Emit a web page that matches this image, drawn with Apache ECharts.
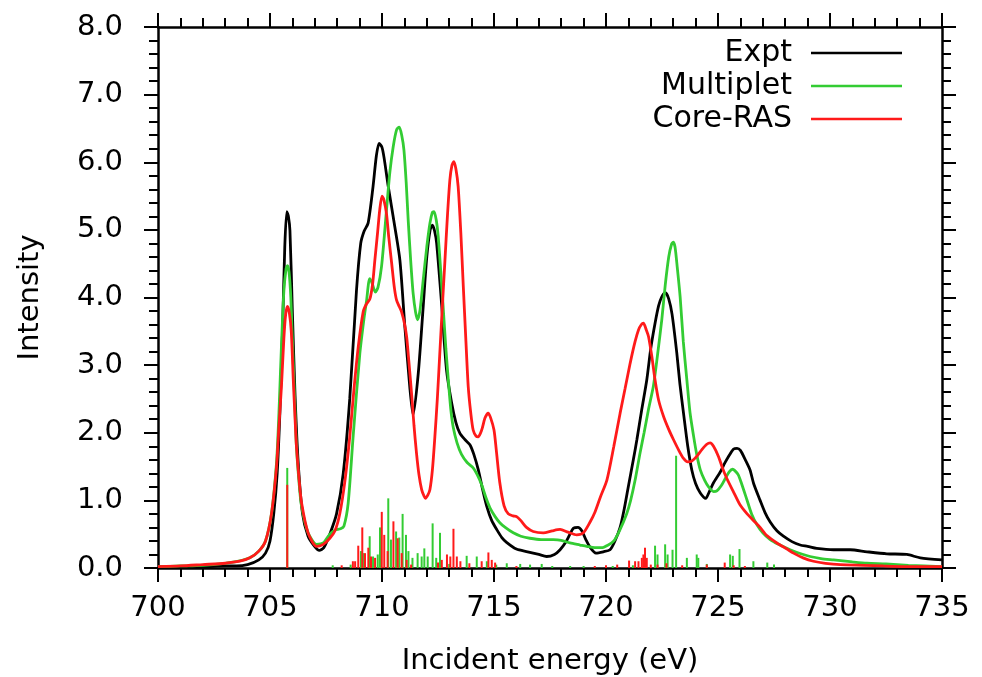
<!DOCTYPE html>
<html>
<head>
<meta charset="utf-8">
<script src="https://cdn.jsdelivr.net/npm/echarts@6/dist/echarts.min.js"></script>
<style>
  html, body { margin: 0; padding: 0; background: #fff; }
  #chart { width: 982px; height: 677px; }
</style>
</head>
<body>
<div id="chart"></div>
<script>
// L-edge XAS spectra: measured curve and two calculations, [energy eV, intensity]
const expt = [
  [700.0, 0.02], [701.0, 0.02], [702.0, 0.02], [703.0, 0.03], [703.5, 0.03], [704.0, 0.05],
  [704.5, 0.12], [704.8, 0.22], [705.0, 0.4], [705.17, 0.81], [705.32, 1.4], [705.44, 2.29],
  [705.56, 3.52], [705.66, 4.75], [705.75, 5.27], [705.82, 5.2], [705.89, 4.99], [706.0, 3.77],
  [706.12, 2.54], [706.26, 1.55], [706.45, 0.81], [706.7, 0.47], [706.99, 0.32], [707.2, 0.26],
  [707.4, 0.3], [707.67, 0.5], [707.97, 0.8], [708.27, 1.4], [708.56, 2.5], [708.86, 4.1],
  [709.05, 4.8], [709.2, 4.98], [709.38, 5.1], [709.6, 5.64], [709.75, 6.1], [709.87, 6.28],
  [710.0, 6.22], [710.1, 6.05], [710.28, 5.64], [710.57, 5.05], [710.8, 4.55], [711.02, 3.57],
  [711.24, 2.68], [711.39, 2.26], [711.62, 2.88], [711.84, 3.87], [712.0, 4.6], [712.15, 5.0],
  [712.25, 5.07], [712.35, 4.98], [712.44, 4.8], [712.66, 3.91], [712.88, 2.93], [713.11, 2.44],
  [713.3, 2.15], [713.48, 1.99], [713.7, 1.9], [713.93, 1.82], [714.1, 1.68], [714.3, 1.45],
  [714.5, 1.15], [714.67, 0.92], [714.9, 0.7], [715.12, 0.57], [715.35, 0.45], [715.56, 0.38],
  [716.0, 0.28], [716.5, 0.24], [717.0, 0.2], [717.35, 0.17], [717.7, 0.2], [717.95, 0.27],
  [718.2, 0.38], [718.39, 0.5], [718.55, 0.59], [718.75, 0.6], [718.92, 0.55], [719.1, 0.42],
  [719.3, 0.3], [719.55, 0.22], [719.88, 0.24], [720.18, 0.27], [720.4, 0.4], [720.63, 0.6],
  [720.8, 0.85], [721.0, 1.21], [721.22, 1.6], [721.38, 1.9], [721.6, 2.35], [721.82, 2.78],
  [722.0, 3.25], [722.19, 3.62], [722.35, 3.88], [722.49, 4.01], [722.65, 4.07], [722.8, 3.98],
  [722.95, 3.75], [723.16, 3.18], [723.3, 2.72], [723.46, 2.29], [723.65, 1.8], [723.83, 1.45],
  [724.0, 1.25], [724.21, 1.11], [724.45, 1.03], [724.6, 1.12], [724.8, 1.26], [725.1, 1.42],
  [725.3, 1.55], [725.47, 1.65], [725.7, 1.76], [725.85, 1.77], [726.0, 1.74], [726.22, 1.6],
  [726.43, 1.45], [726.59, 1.25], [726.88, 1.0], [727.1, 0.82], [727.33, 0.68], [727.63, 0.55],
  [727.92, 0.47], [728.3, 0.39], [728.67, 0.34], [729.0, 0.32], [729.41, 0.29], [730.16, 0.27],
  [730.9, 0.27], [731.65, 0.24], [732.54, 0.21], [733.43, 0.2], [734.03, 0.15], [735.0, 0.12]
];

const multiplet = [
  [700.0, 0.02], [701.0, 0.03], [702.0, 0.04], [703.0, 0.07], [703.6, 0.1], [704.1, 0.15],
  [704.5, 0.25], [704.8, 0.4], [705.07, 0.81], [705.29, 1.55], [705.4, 2.3], [705.51, 3.27],
  [705.62, 4.1], [705.72, 4.43], [705.78, 4.47], [705.85, 4.38], [705.93, 4.0], [706.0, 3.37],
  [706.1, 2.5], [706.18, 1.8], [706.3, 1.25], [706.41, 0.91], [706.7, 0.52], [707.08, 0.35],
  [707.38, 0.37], [707.67, 0.5], [707.9, 0.56], [708.15, 0.58], [708.3, 0.62], [708.49, 0.96],
  [708.71, 1.94], [709.01, 3.17], [709.2, 3.7], [709.31, 3.95], [709.45, 4.28], [709.55, 4.22],
  [709.7, 4.08], [709.82, 4.15], [709.98, 4.46], [710.2, 5.29], [710.35, 5.85], [710.5, 6.23],
  [710.65, 6.48], [710.77, 6.52], [710.88, 6.4], [710.98, 6.18], [711.08, 5.7], [711.17, 5.14],
  [711.28, 4.55], [711.39, 4.06], [711.5, 3.78], [711.59, 3.67], [711.7, 3.82], [711.84, 4.26],
  [712.0, 4.75], [712.14, 5.1], [712.25, 5.26], [712.32, 5.27], [712.42, 5.15], [712.51, 4.9],
  [712.62, 4.4], [712.73, 3.86], [712.85, 3.25], [712.96, 2.78], [713.07, 2.35], [713.18, 2.08],
  [713.35, 1.85], [713.55, 1.68], [713.8, 1.56], [714.07, 1.48], [714.25, 1.38], [714.45, 1.23],
  [714.65, 1.03], [714.82, 0.89], [715.05, 0.76], [715.26, 0.67], [715.5, 0.6], [715.86, 0.52],
  [716.2, 0.47], [716.6, 0.44], [717.1, 0.42], [717.65, 0.42], [718.0, 0.41], [718.39, 0.37],
  [718.84, 0.34], [719.14, 0.32], [719.5, 0.3], [719.8, 0.3], [720.1, 0.34], [720.35, 0.4],
  [720.6, 0.55], [720.92, 0.8], [721.1, 1.0], [721.3, 1.3], [721.52, 1.7], [721.7, 2.0],
  [721.9, 2.35], [722.12, 2.7], [722.3, 3.15], [722.49, 3.67], [722.65, 4.2], [722.8, 4.6],
  [722.92, 4.78], [723.0, 4.82], [723.08, 4.75], [723.18, 4.45], [723.31, 4.01], [723.45, 3.35],
  [723.61, 2.78], [723.75, 2.3], [723.91, 1.95], [724.05, 1.68], [724.21, 1.45], [724.4, 1.3],
  [724.58, 1.2], [724.8, 1.13], [724.95, 1.14], [725.15, 1.22], [725.32, 1.32], [725.5, 1.42],
  [725.65, 1.46], [725.75, 1.44], [725.9, 1.38], [726.05, 1.25], [726.29, 1.01], [726.5, 0.8],
  [726.74, 0.64], [727.0, 0.52], [727.33, 0.42], [727.7, 0.35], [728.22, 0.27], [728.7, 0.21],
  [729.11, 0.17], [729.6, 0.14], [730.16, 0.12], [731.0, 0.09], [731.65, 0.07], [732.5, 0.06],
  [733.5, 0.04], [735.0, 0.02]
];

const coreRas = [
  [700.0, 0.02], [701.0, 0.03], [702.0, 0.05], [703.0, 0.07], [703.65, 0.1], [704.1, 0.15],
  [704.5, 0.25], [704.8, 0.4], [705.07, 0.81], [705.29, 1.5], [705.4, 2.1], [705.51, 2.68],
  [705.62, 3.4], [705.7, 3.75], [705.78, 3.87], [705.86, 3.78], [705.95, 3.5], [706.04, 2.78],
  [706.12, 2.2], [706.18, 1.8], [706.3, 1.3], [706.41, 0.96], [706.7, 0.52], [707.08, 0.32],
  [707.38, 0.35], [707.67, 0.44], [707.9, 0.55], [708.12, 0.81], [708.35, 1.3], [708.56, 1.94],
  [708.75, 2.65], [708.94, 3.27], [709.16, 3.79], [709.3, 3.9], [709.46, 3.98], [709.58, 4.2],
  [709.68, 4.55], [709.8, 4.95], [709.9, 5.3], [710.0, 5.5], [710.08, 5.45], [710.2, 5.24],
  [710.3, 4.9], [710.43, 4.51], [710.55, 4.15], [710.65, 3.96], [710.78, 3.86], [710.87, 3.79],
  [711.0, 3.62], [711.1, 3.42], [711.2, 3.05], [711.32, 2.58], [711.43, 2.1], [711.54, 1.7],
  [711.65, 1.38], [711.77, 1.16], [711.88, 1.06], [711.94, 1.03], [712.05, 1.08], [712.14, 1.16],
  [712.25, 1.45], [712.36, 1.94], [712.47, 2.5], [712.58, 3.17], [712.7, 3.9], [712.81, 4.55],
  [712.92, 5.2], [713.03, 5.74], [713.12, 5.95], [713.21, 6.01], [713.3, 5.9], [713.4, 5.64],
  [713.52, 4.95], [713.63, 4.16], [713.74, 3.4], [713.85, 2.68], [713.96, 2.3], [714.07, 2.04],
  [714.2, 1.95], [714.3, 1.94], [714.45, 2.04], [714.6, 2.22], [714.74, 2.29], [714.85, 2.22],
  [715.0, 2.04], [715.1, 1.75], [715.26, 1.26], [715.45, 0.92], [715.64, 0.8], [715.85, 0.77],
  [716.01, 0.76], [716.2, 0.7], [716.45, 0.6], [716.75, 0.54], [717.2, 0.52], [717.6, 0.55],
  [717.95, 0.57], [718.3, 0.53], [718.69, 0.49], [718.99, 0.52], [719.29, 0.68], [719.5, 0.82],
  [719.75, 1.05], [720.04, 1.3], [720.35, 1.8], [720.63, 2.29], [720.85, 2.65], [721.08, 3.03],
  [721.3, 3.35], [721.45, 3.52], [721.58, 3.6], [721.67, 3.62], [721.8, 3.52], [721.9, 3.42],
  [722.05, 3.12], [722.19, 2.78], [722.35, 2.48], [722.57, 2.24], [722.8, 2.05], [723.01, 1.9],
  [723.25, 1.74], [723.46, 1.62], [723.65, 1.57], [723.83, 1.58], [724.05, 1.65], [724.28, 1.75],
  [724.5, 1.83], [724.65, 1.85], [724.8, 1.8], [725.02, 1.65], [725.2, 1.48], [725.4, 1.32],
  [725.7, 1.12], [725.99, 0.93], [726.3, 0.8], [726.59, 0.7], [726.88, 0.6], [727.18, 0.48],
  [727.63, 0.37], [728.08, 0.28], [728.37, 0.22], [728.8, 0.15], [729.26, 0.1], [729.8, 0.07],
  [730.46, 0.05], [731.5, 0.04], [732.39, 0.03], [734.0, 0.02], [735.0, 0.02]
];

// Transition stick spectra of the two calculations
const multipletSticks = [
  [705.77, 1.48], [707.8, 0.04], [708.6, 0.05], [709.06, 0.25], [709.15, 0.22], [709.24, 0.2],
  [709.45, 0.47], [709.6, 0.17], [709.81, 0.2], [709.91, 0.6], [710.28, 1.03], [710.4, 0.42],
  [710.63, 0.54], [710.77, 0.45], [710.92, 0.8], [711.07, 0.49], [711.18, 0.25], [711.36, 0.15],
  [711.59, 0.22], [711.77, 0.17], [711.89, 0.29], [712.04, 0.17], [712.26, 0.66], [712.42, 0.15],
  [712.59, 0.52], [713.0, 0.06], [713.78, 0.18], [714.23, 0.17], [714.68, 0.1], [715.1, 0.05],
  [715.57, 0.07], [716.17, 0.06], [716.61, 0.05], [717.13, 0.06], [717.6, 0.03], [718.4, 0.03],
  [719.0, 0.03], [720.3, 0.03], [721.2, 0.04], [722.19, 0.33], [722.3, 0.2], [722.64, 0.35],
  [722.75, 0.2], [722.97, 0.27], [723.13, 1.66], [723.61, 0.15], [724.05, 0.2], [724.12, 0.15],
  [724.5, 0.06], [725.54, 0.2], [725.66, 0.18], [725.96, 0.28], [726.58, 0.1], [727.2, 0.08],
  [727.5, 0.05]
];

const coreRasSticks = [
  [705.77, 1.23], [708.2, 0.04], [708.7, 0.1], [708.8, 0.1], [708.94, 0.33], [709.12, 0.6],
  [709.24, 0.22], [709.39, 0.3], [709.51, 0.17], [709.69, 0.15], [709.99, 0.83], [710.1, 0.49],
  [710.25, 0.25], [710.51, 0.69], [710.7, 0.44], [710.88, 0.22], [711.1, 0.12], [711.3, 0.05],
  [712.5, 0.08], [712.67, 0.12], [712.9, 0.2], [713.05, 0.17], [713.19, 0.58], [713.34, 0.17],
  [713.5, 0.1], [713.9, 0.07], [714.45, 0.1], [714.75, 0.23], [714.9, 0.12], [715.05, 0.08],
  [716.0, 0.03], [719.5, 0.03], [720.0, 0.04], [720.5, 0.05], [721.03, 0.11], [721.3, 0.1],
  [721.45, 0.1], [721.6, 0.15], [721.67, 0.2], [721.74, 0.3], [721.82, 0.15], [722.0, 0.05],
  [722.3, 0.05], [722.7, 0.07], [723.4, 0.04], [724.5, 0.05], [725.3, 0.08], [725.7, 0.04],
  [726.2, 0.03]
];

const seriesNames = ['Expt', 'Multiplet', 'Core-RAS'];
const energyRange = [700, 735];
const intensityRange = [0, 8];

const FONT = 'DejaVu Sans';
const FONT_SIZE = 29;
const BLACK = '#000000';
const GREEN = '#33cc33';
const RED = '#ff1a1a';

function axisStyle(extra) {
  return Object.assign({
    type: 'value',
    axisLine: { show: true, onZero: false, lineStyle: { color: BLACK, width: 2.5 } },
    axisTick: { show: true, inside: false, length: 14, lineStyle: { color: BLACK, width: 2 } },
    minorTick: { show: true, splitNumber: 5, length: 9, lineStyle: { color: BLACK, width: 2 } },
    splitLine: { show: false },
    minorSplitLine: { show: false }
  }, extra);
}

const chart = echarts.init(document.getElementById('chart'), null, { renderer: 'canvas' });

chart.setOption({
  animation: false,
  backgroundColor: '#ffffff',
  grid: { left: 158, right: 40, top: 27, bottom: 109, containLabel: false, outerBoundsMode: 'none' },
  legend: {
    data: seriesNames,
    orient: 'vertical',
    align: 'right',
    right: 80,
    top: 37,
    padding: 0,
    itemGap: 1,
    itemWidth: 91,
    itemHeight: 2.5,
    icon: 'rect',
    textStyle: { fontFamily: FONT, fontSize: 30, color: BLACK, lineHeight: 32, padding: [0, 14, 0, 0] }
  },
  xAxis: [
    axisStyle({
      position: 'bottom',
      min: energyRange[0], max: energyRange[1], interval: 5,
      name: 'Incident energy (eV)',
      nameLocation: 'middle',
      nameGap: 79,
      nameTextStyle: { fontFamily: FONT, fontSize: FONT_SIZE, color: BLACK },
      axisLabel: { fontFamily: FONT, fontSize: FONT_SIZE, color: BLACK, margin: 26 }
    }),
    axisStyle({
      position: 'top',
      min: energyRange[0], max: energyRange[1], interval: 5,
      axisLabel: { show: false }
    })
  ],
  yAxis: [
    axisStyle({
      position: 'left',
      min: intensityRange[0], max: intensityRange[1], interval: 1,
      name: 'Intensity',
      nameLocation: 'middle',
      nameGap: 113,
      nameTextStyle: { fontFamily: FONT, fontSize: FONT_SIZE, color: BLACK },
      axisLabel: {
        fontFamily: FONT, fontSize: FONT_SIZE, color: BLACK, margin: 35,
        formatter: v => v.toFixed(1)
      }
    }),
    axisStyle({
      position: 'right',
      min: intensityRange[0], max: intensityRange[1], interval: 1,
      axisLabel: { show: false }
    })
  ],
  series: [
    {
      name: 'Multiplet sticks', type: 'bar', xAxisIndex: 0, yAxisIndex: 0,
      data: multipletSticks, barWidth: 2, barGap: '-100%',
      itemStyle: { color: GREEN }, silent: true
    },
    {
      name: 'Core-RAS sticks', type: 'bar', xAxisIndex: 0, yAxisIndex: 0,
      data: coreRasSticks, barWidth: 2, barGap: '-100%',
      itemStyle: { color: RED }, silent: true
    },
    {
      name: seriesNames[0], type: 'line', data: expt, color: BLACK,
      showSymbol: false, smooth: 0.25, lineStyle: { color: BLACK, width: 2.8 }
    },
    {
      name: seriesNames[1], type: 'line', data: multiplet, color: GREEN,
      showSymbol: false, smooth: 0.25, lineStyle: { color: GREEN, width: 2.8 }
    },
    {
      name: seriesNames[2], type: 'line', data: coreRas, color: RED,
      showSymbol: false, smooth: 0.25, lineStyle: { color: RED, width: 2.8 }
    }
  ]
});
</script>
</body>
</html>
